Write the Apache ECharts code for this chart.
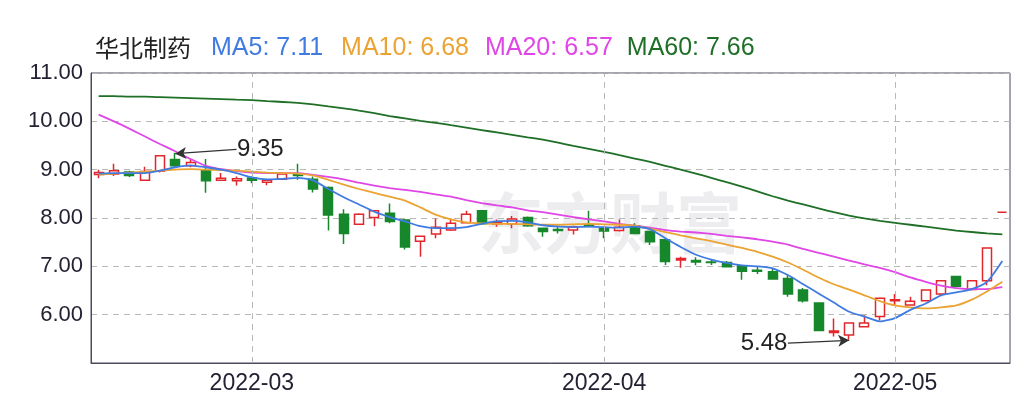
<!DOCTYPE html>
<html><head><meta charset="utf-8">
<script src="https://cdn.jsdelivr.net/npm/echarts@6/dist/echarts.min.js"></script>
<style>html,body{margin:0;padding:0;background:#fff}#c{width:1012px;height:408px}</style>
</head><body><div id="c"></div>
<script>
const stockName = '华北制药';
const dates = [
 '2022-02-15','2022-02-16','2022-02-17','2022-02-18','2022-02-21','2022-02-22','2022-02-23','2022-02-24','2022-02-25','2022-02-28',
 '2022-03-01','2022-03-02','2022-03-03','2022-03-04','2022-03-07','2022-03-08','2022-03-09','2022-03-10','2022-03-11','2022-03-14',
 '2022-03-15','2022-03-16','2022-03-17','2022-03-18','2022-03-21','2022-03-22','2022-03-23','2022-03-24','2022-03-25','2022-03-28',
 '2022-03-29','2022-03-30','2022-03-31',
 '2022-04-01','2022-04-06','2022-04-07','2022-04-08','2022-04-11','2022-04-12','2022-04-13','2022-04-14','2022-04-15','2022-04-18',
 '2022-04-19','2022-04-20','2022-04-21','2022-04-22','2022-04-25','2022-04-26','2022-04-27','2022-04-28','2022-04-29',
 '2022-05-05','2022-05-06','2022-05-09','2022-05-10','2022-05-11','2022-05-12','2022-05-13','2022-05-16'
];
// [open, close, low, high]
const ohlc = [
 [8.90,8.94,8.82,9.00],[8.91,8.98,8.87,9.12],[8.95,8.88,8.85,8.98],[8.78,8.96,8.77,9.06],[8.97,9.29,8.94,9.30],
 [9.21,9.08,9.04,9.35],[9.08,9.15,9.05,9.22],[8.99,8.77,8.52,9.22],[8.78,8.82,8.77,8.93],[8.77,8.81,8.67,8.86],
 [8.83,8.78,8.72,8.86],[8.74,8.78,8.68,8.80],[8.80,8.91,8.79,8.93],[8.90,8.88,8.79,9.12],[8.80,8.60,8.53,8.86],
 [8.63,8.06,7.74,8.65],[8.08,7.68,7.46,8.18],[7.87,8.08,7.86,8.10],[8.01,8.15,7.83,8.16],[8.10,7.93,7.89,8.30],
 [7.96,7.40,7.35,7.98],[7.52,7.62,7.20,7.63],[7.67,7.81,7.58,7.99],[7.75,7.89,7.73,7.99],[7.90,8.08,7.89,8.15],
 [8.15,7.88,7.86,8.16],[7.88,7.90,7.82,7.97],[7.88,7.98,7.79,8.04],[8.01,7.84,7.82,8.03],[7.79,7.72,7.61,7.80],
 [7.76,7.74,7.68,7.82],[7.75,7.82,7.66,7.84],[7.86,7.84,7.81,8.15],[7.79,7.73,7.58,7.80],[7.74,7.81,7.72,7.97],
 [7.84,7.68,7.67,7.89],[7.72,7.51,7.44,7.74],[7.55,7.10,7.03,7.56],[7.13,7.16,6.97,7.20],[7.12,7.09,7.02,7.19],
 [7.09,7.08,7.03,7.14],[7.08,6.99,6.98,7.11],[7.01,6.90,6.72,7.03],[6.92,6.90,6.84,6.99],[6.89,6.74,6.73,6.97],
 [6.75,6.43,6.37,6.82],[6.51,6.29,6.25,6.55],[6.24,5.67,5.66,6.25],[5.63,5.66,5.55,5.92],[5.58,5.83,5.48,5.84],
 [5.75,5.83,5.74,5.99],[5.96,6.34,5.88,6.35],[6.29,6.31,6.20,6.43],[6.20,6.28,6.19,6.37],[6.29,6.51,6.28,6.52],
 [6.43,6.70,6.39,6.71],[6.79,6.59,6.58,6.80],[6.52,6.70,6.50,6.71],[6.70,7.38,6.61,7.38],[8.12,8.12,8.12,8.12]
];
const ma5 = [8.92,8.93,8.93,8.93,8.98,9.05,9.09,9.05,9.00,8.93,8.84,8.80,8.81,8.83,8.78,8.60,8.43,8.28,8.13,8.02,
 7.93,7.83,7.79,7.79,7.81,7.88,7.93,7.94,7.91,7.85,7.82,7.81,7.82,7.81,7.80,7.82,7.77,7.58,7.40,7.24,
 7.14,7.07,7.02,7.00,6.96,6.82,6.63,6.44,6.25,6.06,5.96,5.86,5.93,6.10,6.23,6.40,6.46,6.53,6.68,7.11];
const ma10 = [8.90,8.92,8.94,8.96,8.98,9.00,9.01,9.00,8.99,8.98,8.96,8.94,8.93,8.92,8.88,8.79,8.69,8.60,8.52,8.44,
 8.36,8.22,8.07,7.97,7.91,7.89,7.88,7.88,7.87,7.86,7.86,7.87,7.88,7.87,7.86,7.84,7.78,7.71,7.64,7.58,
 7.52,7.45,7.38,7.30,7.20,7.08,6.93,6.77,6.63,6.52,6.40,6.28,6.19,6.15,6.13,6.15,6.19,6.31,6.48,6.68];
const ma20 = [10.14,10.00,9.85,9.69,9.53,9.38,9.22,9.08,9.01,8.97,8.94,8.93,8.93,8.93,8.89,8.85,8.80,8.73,8.67,8.62,
 8.58,8.54,8.49,8.44,8.37,8.31,8.26,8.22,8.16,8.12,8.07,8.02,7.97,7.93,7.88,7.84,7.80,7.75,7.72,7.70,
 7.67,7.63,7.60,7.56,7.51,7.45,7.36,7.28,7.20,7.12,7.04,6.97,6.88,6.77,6.68,6.60,6.55,6.53,6.53,6.57];
const ma60 = [10.52,10.52,10.51,10.51,10.50,10.49,10.48,10.47,10.46,10.45,10.44,10.42,10.40,10.38,10.35,10.31,10.27,10.22,10.17,10.11,
 10.06,10.01,9.97,9.92,9.87,9.82,9.77,9.72,9.67,9.62,9.56,9.49,9.43,9.37,9.30,9.23,9.16,9.08,9.00,8.92,
 8.83,8.74,8.65,8.55,8.45,8.36,8.28,8.20,8.12,8.05,7.99,7.94,7.90,7.86,7.82,7.78,7.74,7.71,7.68,7.66];
const yMin = 5, yMax = 11, yStep = 1;
// annotations: [labelIndex, labelValue, tipIndex, tipValue, text, side]
const notes = [
 [9, 9.42, 5, 9.33, '9.35', 'right'],
 [45, 5.41, 49, 5.47, '5.48', 'left']
];

const C = {red:'#e3262b', green:'#17872b', ma5:'#3f7be0', ma10:'#eba332', ma20:'#e046e6', ma60:'#1f6f27', text:'#222233'};
const font = '"Liberation Sans", Arial, sans-serif';
const isMonthStart = (i) => i > 0 && dates[i].slice(0,7) !== dates[i-1].slice(0,7);
const monthStarts = dates.filter((d,i)=>isMonthStart(i));
const last = a => a[a.length-1].toFixed(2);
const rs = (color, ff, size, pad) => ({fontSize:size, fontWeight:'normal', color, fontFamily:ff, padding:[0,pad,0,0], lineHeight:30});

const chart = echarts.init(document.getElementById('c'), null, {renderer:'canvas'});
chart.setOption({
  animation:false,
  backgroundColor:'#fff',
  title:{
    left:90, top:28,
    text:`{n|${stockName}}{b|MA5: ${last(ma5)}}{o|MA10: ${last(ma10)}}{m|MA20: ${last(ma20)}}{g|MA60: ${last(ma60)}}`,
    textStyle:{fontWeight:'normal', rich:{
      n: rs('#222', '"Noto Sans CJK SC"', 24, 20),
      b: rs(C.ma5, font, 25, 18),
      o: rs(C.ma10, font, 25, 16),
      m: rs(C.ma20, font, 25, 14),
      g: rs(C.ma60, font, 25, 0)
    }}
  },
  graphic:[{
    type:'text', left:478, top:190, z:0, silent:true,
    style:{text:'东方财富', font:'bold 66px "Noto Sans CJK SC"', fill:'rgba(190,190,200,0.28)'}
  }],
  grid:{left:91, right:2, top:73, bottom:45, show:true, borderColor:'#4b4b5c', borderWidth:1, backgroundColor:'transparent'},
  xAxis:{
    type:'category', data:dates, boundaryGap:true,
    axisLine:{lineStyle:{color:'#4b4b5c'}}, axisTick:{show:false},
    axisLabel:{interval:(i)=>isMonthStart(i), formatter:(v)=>v.slice(0,7), color:C.text, fontSize:23, fontFamily:font, margin:9},
    splitLine:{show:false}
  },
  yAxis:{
    type:'value', min:yMin, max:yMax, interval:yStep, scale:true,
    axisLine:{show:true, lineStyle:{color:'#4b4b5c'}}, axisTick:{show:false},
    axisLabel:{formatter:(v)=>v.toFixed(2), color:C.text, fontSize:22, fontFamily:font, margin:8, showMinLabel:false},
    splitLine:{show:true, lineStyle:{color:'#b8b8b8', type:[6,5], width:1}}
  },
  series:[
    {type:'line', data:[], z:1, silent:true,
     markLine:{silent:true, symbol:'none', label:{show:false}, lineStyle:{color:'#b8b8b8', type:[6,5], width:1},
       data: monthStarts.map(d=>({xAxis:d}))}},
    {type:'candlestick', data:ohlc, barWidth:'62%', z:2,
     itemStyle:{color:'#ffffff', color0:C.green, borderColor:C.red, borderColor0:C.green, borderWidth:1.5},
     markLine:{silent:true, symbol:['none','arrow'], symbolSize:[9,11], label:{show:false},
       lineStyle:{color:'#333', width:1.3, type:'solid'},
       data: notes.map(n=>[{coord:[dates[n[0]], n[1]]},{coord:[dates[n[2]], n[3]]}])},
     markPoint:{silent:true, symbol:'circle', symbolSize:1, itemStyle:{color:'rgba(0,0,0,0)'},
       data: notes.map(n=>({coord:[dates[n[0]], n[1]], value:n[4],
         label:{show:true, position:n[5], distance:0, formatter:n[4], color:'#222', fontSize:24, fontFamily:font}}))}
    },
    {type:'line', data:ma60, symbol:'none', smooth:0.2, z:3, lineStyle:{color:C.ma60, width:1.8}},
    {type:'line', data:ma20, symbol:'none', smooth:0.2, z:3, lineStyle:{color:C.ma20, width:1.8}},
    {type:'line', data:ma10, symbol:'none', smooth:0.2, z:3, lineStyle:{color:C.ma10, width:1.8}},
    {type:'line', data:ma5, symbol:'none', smooth:0.2, z:3, lineStyle:{color:C.ma5, width:1.8}}
  ]
});
</script></body></html>
